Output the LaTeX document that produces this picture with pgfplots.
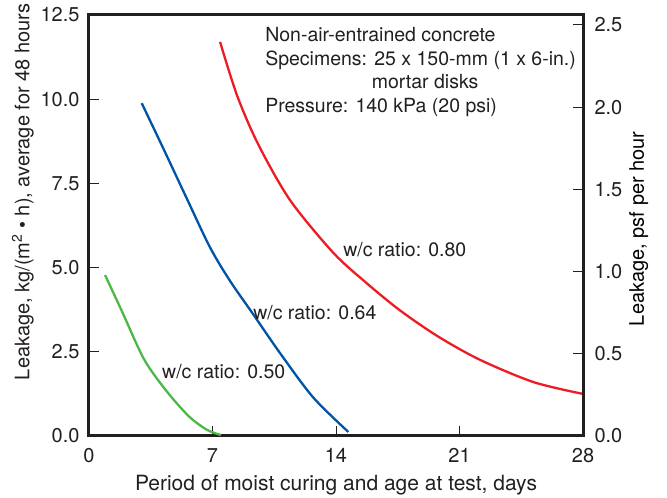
\documentclass[border=0pt]{standalone}
\usepackage{pgfplots}
\pgfplotsset{compat=1.18}
\usepackage{fontspec}
\setmainfont{TeX Gyre Heros}
\definecolor{txt}{RGB}{35,31,32}
\definecolor{cred}{RGB}{237,28,36}
\definecolor{cblue}{RGB}{0,84,166}
\definecolor{cgreen}{RGB}{77,184,72}
\begin{document}
\begin{tikzpicture}[font=\fontsize{20}{24}\selectfont]
\pgfplotsset{
  common/.style={
    scale only axis, width=494pt, height=421pt,
    xmin=0, xmax=28,
    tick align=inside, major tick length=10pt,
    major tick style={line width=1pt, color=txt},
    axis line style={line width=3pt, color=txt, -},
    tick label style={text=txt, /pgf/number format/assume math mode=true},
    label style={text=txt},
    yticklabel style={/pgf/number format/fixed, /pgf/number format/fixed zerofill, /pgf/number format/precision=1},
  }
}
\begin{axis}[common,
  ymin=0, ymax=12.5,
  xtick={0,7,14,21,28},
  ytick={0,2.5,5,7.5,10,12.5},
  xtick pos=bottom, ytick pos=left,
  xticklabel style={/pgf/number format/fixed, /pgf/number format/precision=0, /tikz/yshift=-9pt},
  yticklabel style={/tikz/xshift=-6pt},
  xlabel={Period of moist curing and age at test, days},
  xlabel style={yshift=-5pt, font=\fontsize{21}{24}\selectfont},
  ylabel={Leakage, kg/(m\textsuperscript{2} \textbullet{} h), average for 48 hours},
  ylabel style={at={(ticklabel cs:0.58)}, xshift=0pt},
]
\addplot[cgreen, line width=2.3pt, smooth] coordinates {
 (0.91,4.78) (1.87,3.70) (3.12,2.28) (4.37,1.35) (5.67,0.58) (6.7,0.18) (7.48,0.03)};
\addplot[cblue, line width=2.3pt, smooth] coordinates {
 (2.99,9.88) (4.2,8.55) (5.5,7.1) (6.86,5.6) (8.0,4.6) (9.3,3.62) (10.83,2.46) (12.7,1.15) (14.7,0.12)};
\addplot[cred, line width=2.3pt, smooth] coordinates {
 (7.43,11.70) (8.4,10.1) (9.6,8.65) (11.4,7.0) (13.83,5.45) (15.6,4.6) (17.6,3.74) (19.8,2.95) (22.17,2.26) (25.2,1.60) (28,1.25)};
\begin{scope}[font=\fontsize{19.5}{23}\selectfont]
\node[anchor=west, inner sep=0, text=txt] at (axis cs:14.4,5.52) {w/c ratio: 0.80};
\node[anchor=west, inner sep=0, text=txt] at (axis cs:9.30,3.65) {w/c ratio: 0.64};
\node[anchor=west, inner sep=0, text=txt] at (axis cs:4.14,1.90) {w/c ratio: 0.50};
\node[anchor=west, inner sep=0, text=txt] at (axis cs:9.98,11.91) {Non-air-entrained concrete};
\node[anchor=west, inner sep=0, text=txt] at (axis cs:9.98,11.16) {Specimens: 25 x 150-mm (1 x 6-in.)};
\node[anchor=center, inner sep=0, text=txt] at (axis cs:19.05,10.51) {mortar disks};
\node[anchor=west, inner sep=0, text=txt] at (axis cs:9.98,9.74) {Pressure: 140 kPa (20 psi)};
\end{scope}
\end{axis}
\begin{axis}[common,
  ymin=0, ymax=2.56025,
  axis x line=none, axis y line*=right,
  ytick={0,0.5,1,1.5,2,2.5},
  ytick pos=right, yticklabel pos=right,
  yticklabel style={/tikz/xshift=8pt},
  ylabel={Leakage, psf per hour},
  ylabel near ticks,
  ylabel style={at={(ticklabel cs:0.44)}, xshift=22pt},
]
\addplot[draw=none] coordinates {(0,0)};
\end{axis}
\pgfresetboundingbox
\path[use as bounding box] (-89pt,-62pt) rectangle (578pt,436pt);
\end{tikzpicture}
\end{document}
